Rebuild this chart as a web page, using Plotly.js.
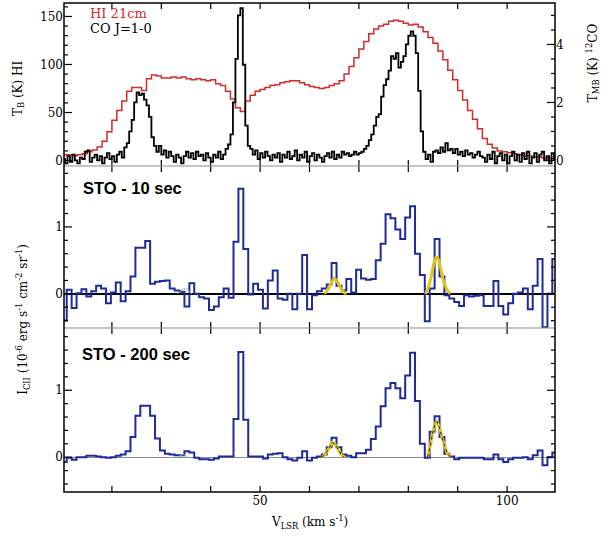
<!DOCTYPE html>
<html><head><meta charset="utf-8">
<script src="https://cdn.plot.ly/plotly-3.0.1.min.js"></script>
<style>html,body{margin:0;padding:0;background:#fff}#chart{width:604px;height:537px}</style>
</head><body><div id="chart"></div>
<script>
// ---------- DATA ----------
// HI 21cm brightness temperature (K), 1 km/s channels starting at 10 km/s
const hiStart = 10, hiStep = 1;
const hiTb = [
 6,6,5,6,7,9,11,14,20,30,
 42,52,62,72,76,76,73,85,89,88,
 86,86,87,86,87,85,84,85,84,83,
 84,80,78,72,64,55,51,62,68,72,
 74,76,78,79,81,82,83,83,81,79,
 77,76,75,76,78,80,83,90,98,107,
 116,124,132,137,140,142,145,146,145,143,
 141,142,139,134,128,122,114,105,94,84,
 73,63,52,43,33,23,17,13,10,9,
 8,7,6,5,5,4,4,3,2,2,2];
// CO J=1-0 main-beam temperature (K), 0.5 km/s channels starting at 10 km/s
const coStart = 10, coStep = 0.5;
const coTmb = [
 0.05,-0.1,0.15,-0.05,0.2,0.0,-0.1,0.1,0.05,0.3,
 0.35,-0.05,0.1,0.2,0.0,0.15,-0.1,0.1,0.25,0.05,
 0.15,-0.05,0.2,0.3,0.1,0.45,0.6,1.0,1.4,2.0,
 2.35,2.25,2.3,2.1,1.9,1.5,0.8,0.5,0.3,0.5,
 0.2,0.35,0.1,0.3,0.15,-0.05,0.2,0.1,-0.1,0.15,
 0.3,0.1,0.25,0.05,0.3,0.15,0.2,0.0,0.25,0.1,
 -0.05,0.2,0.1,0.3,0.05,0.2,0.4,0.55,0.9,2.0,
 3.5,5.0,5.25,3.3,1.2,0.5,0.4,0.2,0.35,0.05,
 0.25,0.1,0.3,0.15,0.0,0.2,0.1,0.25,-0.05,0.2,
 0.1,0.3,0.05,0.15,0.35,0.0,0.2,0.1,0.3,-0.05,
 0.15,0.25,0.0,0.2,0.1,-0.05,0.15,0.25,0.1,0.3,
 0.05,0.2,0.1,0.3,0.2,0.25,0.15,0.2,0.3,0.2,
 0.25,0.3,0.4,0.5,0.7,0.9,1.2,1.5,1.6,2.2,
 2.6,2.8,3.1,3.6,3.5,3.7,3.2,3.4,3.6,4.0,
 4.3,4.45,4.3,3.7,2.4,1.0,0.3,0.05,0.2,-0.05,
 0.3,0.35,0.25,0.45,0.3,0.6,0.35,0.4,0.25,0.4,
 0.2,0.3,0.15,0.35,0.2,0.25,0.1,0.2,0.3,0.15,
 0.1,-0.05,0.2,0.05,0.3,-0.1,0.15,0.25,0.0,0.2,
 -0.1,0.15,0.3,0.0,0.2,-0.05,0.25,0.05,0.3,-0.1,
 0.1,0.25,-0.05,0.2,0.3,0.0,0.15,-0.1,0.25,0.05,
 0.1];
// STO [CII] channels: left edge of first channel and channel width (km/s)
const stoEdge0 = 9.86, stoDv = 0.993;
const sto10 = [
 -0.40,0.06,-0.21,0.01,0.07,-0.04,0.04,0.12,0.08,-0.14,
 0.02,0.17,-0.11,0.04,0.26,0.69,0.69,0.79,0.15,0.18,
 0.19,0.20,0.08,0.05,0.03,-0.19,0.16,0.00,-0.05,-0.07,
 -0.24,-0.19,-0.05,0.08,-0.06,0.78,1.57,0.67,-0.01,0.15,
 0.06,-0.22,0.20,0.35,-0.07,-0.09,0.00,-0.23,0.00,0.58,
 -0.23,-0.02,0.04,0.08,0.14,0.46,0.12,0.05,0.22,0.02,
 0.36,0.23,0.21,0.22,0.50,0.75,1.19,1.13,0.96,0.82,
 1.14,1.31,0.60,0.28,-0.41,0.08,0.82,0.26,-0.02,-0.07,
 -0.12,-0.18,-0.02,-0.04,-0.03,-0.02,-0.18,-0.18,0.19,-0.18,
 -0.31,-0.14,0.00,0.02,0.08,-0.23,0.12,0.52,-0.50,0.00,
 0.52];
const sto200 = [
 -0.07,-0.01,-0.04,0.00,0.00,0.02,0.02,0.01,0.00,-0.01,
 0.00,0.02,0.04,0.09,0.30,0.62,0.77,0.77,0.62,0.28,
 0.10,0.05,0.04,0.03,0.03,0.09,0.07,-0.01,-0.03,-0.03,
 -0.04,-0.02,0.01,0.01,0.01,0.57,1.57,0.56,0.01,0.01,
 0.01,-0.02,0.04,0.05,0.06,0.00,-0.03,-0.05,-0.01,0.09,
 -0.05,-0.01,0.01,0.04,0.15,0.29,0.15,0.04,0.02,0.00,
 0.06,0.06,0.11,0.27,0.46,0.76,1.03,1.11,1.03,0.88,
 1.22,1.56,0.84,0.20,-0.01,0.38,0.61,0.30,0.05,0.01,
 -0.03,-0.01,-0.01,-0.01,-0.01,-0.01,-0.03,-0.03,0.04,-0.03,
 -0.07,-0.03,-0.01,-0.01,0.00,-0.03,0.03,0.10,-0.12,0.00,
 0.07];
// Gaussian fit curves (yellow) and small green fits
const fit10aV = [63.0,63.5,64.0,64.5,65.0,65.5,66.0,66.5,67.0,67.5];
const fit10aI = [0.0,0.04,0.10,0.18,0.23,0.20,0.13,0.06,0.02,0.0];
const fit10bV = [83.5,84.1,84.7,85.2,85.7,86.2,86.7,87.2,87.8,88.5];
const fit10bI = [0.0,0.10,0.28,0.46,0.56,0.50,0.33,0.17,0.06,0.0];
const fit200aV = [62.5,63.0,63.5,64.0,64.6,65.2,65.8,66.4,67.0];
const fit200aI = [0.0,0.03,0.08,0.15,0.22,0.19,0.11,0.04,0.0];
const fit200bV = [83.9,84.4,84.9,85.4,85.8,86.3,86.8,87.3,87.8,88.5];
const fit200bI = [0.0,0.15,0.35,0.50,0.53,0.45,0.30,0.17,0.07,0.0];
const green10V = [33.3,33.9,34.5,35.1,35.7,36.2];
const green10I = [0.0,0.04,0.08,0.07,0.03,0.0];
const green200V = [33.3,33.8,34.3,34.8,35.3];
const green200I = [0.0,0.02,0.04,0.03,0.0];
// tick labels
const xTickVals = [50, 100];
const xTickText = ['50', '100'];

// ---------- BUILD ----------
const hiV = hiTb.map((_, i) => hiStart + i * hiStep);
const coV = coTmb.map((_, i) => coStart + i * coStep);
function stoSteps(vals) {
  const x = vals.map((_, i) => stoEdge0 + i * stoDv);
  const y = vals.slice();
  x.push(stoEdge0 + vals.length * stoDv); y.push(vals[vals.length - 1]);
  return {x, y};
}
const s10 = stoSteps(sto10), s200 = stoSteps(sto200);

const BLUE = '#1f2a9c', GRAY = '#8c8c8c', YEL = '#e3c416', GRN = '#7fd07f', RED = '#d42a2a';
const serif = 'DejaVu Serif';

const traces = [
  {x: hiV, y: hiTb, xaxis: 'x3', yaxis: 'y', mode: 'lines', line: {shape: 'hv', color: RED, width: 1.5}},
  {x: coV, y: coTmb, xaxis: 'x3', yaxis: 'y4', mode: 'lines', line: {shape: 'hv', color: '#000', width: 1.8}},

  {x: s10.x, y: s10.y, xaxis: 'x2', yaxis: 'y2', mode: 'lines', line: {shape: 'hv', color: BLUE, width: 2}},
  {x: green10V, y: green10I, xaxis: 'x2', yaxis: 'y2', mode: 'lines', line: {color: GRN, width: 1}},
  {x: fit10aV, y: fit10aI, xaxis: 'x2', yaxis: 'y2', mode: 'lines', line: {color: YEL, width: 3}},
  {x: fit10bV, y: fit10bI, xaxis: 'x2', yaxis: 'y2', mode: 'lines', line: {color: YEL, width: 3}},

  {x: s200.x, y: s200.y, xaxis: 'x', yaxis: 'y3', mode: 'lines', line: {shape: 'hv', color: BLUE, width: 2}},
  {x: green200V, y: green200I, xaxis: 'x', yaxis: 'y3', mode: 'lines', line: {color: GRN, width: 1}},
  {x: fit200aV, y: fit200aI, xaxis: 'x', yaxis: 'y3', mode: 'lines', line: {color: YEL, width: 3}},
  {x: fit200bV, y: fit200bI, xaxis: 'x', yaxis: 'y3', mode: 'lines', line: {color: YEL, width: 3}},
  {x: fit200aV, y: fit200aI, xaxis: 'x', yaxis: 'y3', mode: 'lines', line: {color: '#222', width: 1, dash: 'dot'}},
  {x: fit200bV, y: fit200bI, xaxis: 'x', yaxis: 'y3', mode: 'lines', line: {color: '#222', width: 1, dash: 'dot'}}
];

const tickFont = {family: serif, size: 12, color: '#000'};
function xa(anchor, labels) {
  return {anchor, domain: [0, 1], range: [10.3, 109.7], showgrid: false, zeroline: false, showline: false,
    tickmode: 'array', tickvals: xTickVals, ticktext: xTickText, ticks: '',
    showticklabels: labels, tickfont: tickFont};
}
function ya(anchor, domain, range, dtick, extra) {
  return Object.assign({anchor, domain, range, dtick, tick0: 0, showgrid: false, zeroline: false,
    showline: false, ticks: '', tickfont: tickFont}, extra || {});
}
const D1 = [0, 0.3354], D2 = [0.3354, 0.6667], D3 = [0.6667, 1];

// ---------- TICK MARKS (axis decoration drawn as shapes) ----------
const PW = 491, PH = 489;
const shapes = [];
const TK = {color: '#000', width: 1.2};
function yTicks(yref, lo, hi, step, majorEvery, side) {
  const n0 = Math.ceil(lo / step - 1e-9), n1 = Math.floor(hi / step + 1e-9);
  for (let n = n0; n <= n1; n++) {
    const v = +(n * step).toFixed(6);
    const len = (n % majorEvery === 0 ? 8 : 4) / PW;
    const x0 = side === 'left' ? 0 : 1, x1 = side === 'left' ? len : 1 - len;
    shapes.push({type: 'line', xref: 'paper', yref, x0, x1, y0: v, y1: v, line: TK});
  }
}
function xTicks(dom) {
  const l = 6 / PH;
  for (let v = 20; v <= 100; v += 10) {
    shapes.push({type: 'line', xref: 'x', yref: 'paper', x0: v, x1: v, y0: dom[0], y1: dom[0] + l, line: TK});
    shapes.push({type: 'line', xref: 'x', yref: 'paper', x0: v, x1: v, y0: dom[1], y1: dom[1] - l, line: TK});
  }
}
xTicks(D1); xTicks(D2); xTicks(D3);
yTicks('y', -5, 163, 10, 5, 'left');
yTicks('y4', -0.19, 5.43, 0.5, 4, 'right');
yTicks('y2', -0.5, 1.9, 0.2, 5, 'left');
yTicks('y2', -0.5, 1.9, 0.2, 5, 'right');
yTicks('y3', -0.5, 1.9, 0.2, 5, 'left');
yTicks('y3', -0.5, 1.9, 0.2, 5, 'right');
shapes.push({type: 'line', xref: 'paper', yref: 'paper', x0: 0, x1: 1, y0: D2[0], y1: D2[0], line: {color: GRAY, width: 1}});
shapes.push({type: 'line', xref: 'paper', yref: 'paper', x0: 0, x1: 1, y0: D3[0], y1: D3[0], line: {color: GRAY, width: 1}});
shapes.push({type: 'rect', xref: 'paper', yref: 'paper', x0: 0, x1: 1, y0: 0, y1: 1, line: {color: '#000', width: 1.5}});

const layout = {
  width: 604, height: 537, margin: {l: 64, r: 49, t: 3, b: 45},
  paper_bgcolor: '#fff', plot_bgcolor: '#fff', showlegend: false,
  xaxis: xa('y3', true), xaxis2: xa('y2', false), xaxis3: xa('y', false),
  yaxis: ya('x3', D3, [-5.7, 164], 50),
  yaxis4: ya('x3', D3, [-0.19, 5.43], 2, {overlaying: 'y', side: 'right'}),
  yaxis2: ya('x2', D2, [-0.51, 1.91], 1, {zeroline: true, zerolinecolor: '#000', zerolinewidth: 2}),
  yaxis3: ya('x', D1, [-0.52, 1.93], 1, {zeroline: true, zerolinecolor: '#8c8c8c', zerolinewidth: 1}),
  shapes,
  annotations: [
    {xref: 'paper', yref: 'paper', x: 0.0489, y: 0.9785, xanchor: 'left', yanchor: 'middle', showarrow: false,
     text: 'HI 21cm', font: {family: serif, size: 13, color: RED}},
    {xref: 'paper', yref: 'paper', x: 0.0489, y: 0.9479, xanchor: 'left', yanchor: 'middle', showarrow: false,
     text: 'CO J=1-0', font: {family: serif, size: 13, color: '#000'}},
    {xref: 'paper', yref: 'paper', x: 0.0346, y: 0.6207, xanchor: 'left', yanchor: 'middle', showarrow: false,
     text: '<b>STO - 10 sec</b>', font: {family: 'Liberation Sans', size: 16.5, color: '#000'}},
    {xref: 'paper', yref: 'paper', x: 0.0326, y: 0.2812, xanchor: 'left', yanchor: 'middle', showarrow: false,
     text: '<b>STO - 200 sec</b>', font: {family: 'Liberation Sans', size: 16.5, color: '#000'}},
    {xref: 'paper', yref: 'paper', x: -0.0916, y: 0.826, xanchor: 'center', yanchor: 'middle', showarrow: false, textangle: -90,
     text: 'T<sub>B</sub> (K) HI', font: {family: serif, size: 12, color: '#000'}},
    {xref: 'paper', yref: 'paper', x: 1.0774, y: 0.877, xanchor: 'center', yanchor: 'middle', showarrow: false, textangle: -90,
     text: 'T<sub>MB</sub> (K) <sup>12</sup>CO', font: {family: serif, size: 12, color: '#000'}},
    {xref: 'paper', yref: 'paper', x: -0.0835, y: 0.352, xanchor: 'center', yanchor: 'middle', showarrow: false, textangle: -90,
     text: 'I<sub>CII</sub> (10<sup>-6</sup> erg s<sup>-1</sup> cm<sup>-2</sup> sr<sup>-1</sup>)', font: {family: serif, size: 12, color: '#000'}},
    {xref: 'paper', yref: 'paper', x: 0.501, y: -0.0613, xanchor: 'center', yanchor: 'middle', showarrow: false,
     text: 'V<sub>LSR</sub> (km s<sup>-1</sup>)', font: {family: serif, size: 12, color: '#000'}}
  ]
};
Plotly.newPlot('chart', traces, layout, {staticPlot: true, displayModeBar: false});
</script></body></html>
